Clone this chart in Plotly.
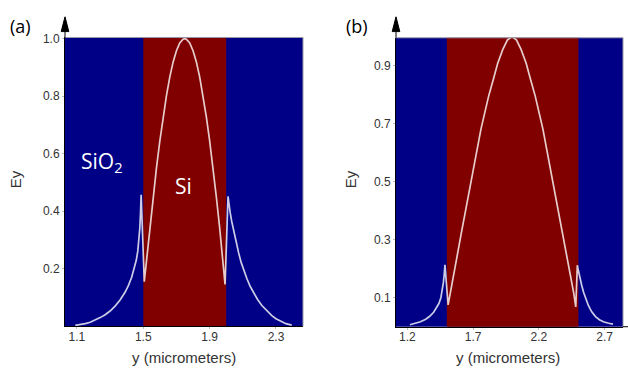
import plotly.graph_objects as go

W, H = 628, 371

# ---- panel (a): 0.5 um silicon core in oxide ----
core_a = [1.5, 2.0]
pos_a = [1.09, 1.12, 1.15, 1.18, 1.21, 1.24, 1.27, 1.30, 1.33, 1.36, 1.39, 1.41, 1.43, 1.445,
         1.458, 1.467, 1.474, 1.479, 1.483, 1.487,
         1.506, 1.52, 1.54, 1.56, 1.58, 1.60, 1.62, 1.64, 1.66, 1.68, 1.70, 1.72, 1.74, 1.75,
         1.76, 1.78, 1.80, 1.82, 1.84, 1.86, 1.88, 1.90, 1.92, 1.94, 1.96, 1.98, 1.993,
         2.011, 2.016, 2.024, 2.033, 2.045, 2.06, 2.075, 2.09, 2.105, 2.125, 2.145, 2.165, 2.19,
         2.215, 2.245, 2.275, 2.30, 2.33, 2.36, 2.395]
ey_a = [0.003, 0.005, 0.009, 0.014, 0.021, 0.030, 0.040, 0.053, 0.070, 0.091, 0.118, 0.141, 0.170, 0.198,
        0.230, 0.262, 0.300, 0.340, 0.390, 0.457,
        0.155, 0.234, 0.345, 0.452, 0.553, 0.645, 0.729, 0.803, 0.867, 0.919, 0.958, 0.985, 0.998, 1.000,
        0.998, 0.985, 0.958, 0.919, 0.867, 0.803, 0.729, 0.645, 0.553, 0.452, 0.345, 0.234, 0.145,
        0.452, 0.425, 0.395, 0.365, 0.330, 0.290, 0.255, 0.222, 0.195, 0.165, 0.138, 0.115, 0.092,
        0.072, 0.053, 0.037, 0.026, 0.016, 0.009, 0.004]
xticks_a = [1.1, 1.5, 1.9, 2.3]
yticks_a = [0.2, 0.4, 0.6, 0.8, 1.0]

# ---- panel (b): 1.0 um silicon core in oxide ----
core_b = [1.5, 2.5]
pos_b = [1.22, 1.26, 1.30, 1.34, 1.37, 1.40, 1.42, 1.44, 1.455, 1.466, 1.474, 1.48, 1.486,
         1.51, 1.525, 1.545, 1.575, 1.605, 1.635, 1.666, 1.713, 1.76, 1.818, 1.855, 1.887, 1.925, 1.96,
         1.995,
         2.03, 2.065, 2.103, 2.135, 2.172, 2.23, 2.277, 2.324, 2.355, 2.385, 2.415, 2.445, 2.465, 2.48,
         2.492, 2.497, 2.505, 2.515, 2.525, 2.54, 2.555, 2.575, 2.60, 2.63, 2.66, 2.69, 2.73, 2.763]
ey_b = [0.007, 0.011, 0.017, 0.026, 0.036, 0.050, 0.063, 0.080, 0.100, 0.125, 0.152, 0.178, 0.213,
        0.075, 0.115, 0.165, 0.235, 0.310, 0.385, 0.456, 0.569, 0.682, 0.795, 0.855, 0.908, 0.955, 0.988,
        1.000,
        0.988, 0.955, 0.908, 0.855, 0.795, 0.682, 0.569, 0.456, 0.385, 0.310, 0.235, 0.165, 0.115, 0.068,
        0.212, 0.200, 0.182, 0.162, 0.143, 0.118, 0.097, 0.074, 0.052, 0.035, 0.024, 0.017, 0.012, 0.009]
xticks_b = [1.2, 1.7, 2.2, 2.7]
yticks_b = [0.1, 0.3, 0.5, 0.7, 0.9]

OXIDE = "rgb(0,0,135)"
SILICON = "rgb(128,0,0)"
FIELD = "rgba(255,255,255,0.8)"
TICK_FONT = dict(family="Liberation Sans, Arial", size=12, color="#333")
LABEL_FONT = dict(family="Liberation Sans, Arial", size=15, color="#333")


def px(x, y):
    """Pixel position -> paper coordinates."""
    return x / W, 1 - y / H


fig = go.Figure()
fig.add_trace(go.Scatter(x=pos_a, y=ey_a, mode="lines", xaxis="x", yaxis="y",
                         line=dict(color=FIELD, width=1.7), hoverinfo="x+y", showlegend=False))
fig.add_trace(go.Scatter(x=pos_b, y=ey_b, mode="lines", xaxis="x2", yaxis="y2",
                         line=dict(color=FIELD, width=1.7), hoverinfo="x+y", showlegend=False))

axis_common = dict(showgrid=False, zeroline=False, showline=True, linecolor="black", linewidth=1,
                   ticks="outside", ticklen=2, tickcolor="#bbb", tickfont=TICK_FONT, fixedrange=True)

fig.update_layout(
    width=W, height=H,
    margin=dict(l=0, r=0, t=0, b=0),
    paper_bgcolor="white",
    plot_bgcolor=OXIDE,
    xaxis=dict(domain=[65 / W, 303 / W], range=[1.028, 2.463], anchor="y", ticklabelstandoff=-3,
               tickvals=xticks_a, ticktext=[f"{v:.1f}" for v in xticks_a], **axis_common),
    yaxis=dict(domain=[1 - 325.5 / H, 1 - 32 / H], range=[0, 1.004], anchor="x",
               tickvals=yticks_a, ticktext=[f"{v:.1f}" for v in yticks_a], **axis_common),
    xaxis2=dict(domain=[396 / W, 623 / W], range=[1.114, 2.839], anchor="y2", ticklabelstandoff=-3,
                tickvals=xticks_b, ticktext=[f"{v:.1f}" for v in xticks_b], **axis_common),
    yaxis2=dict(domain=[1 - 326 / H, 1 - 32.3 / H], range=[0, 0.996], anchor="x2",
                tickvals=yticks_b, ticktext=[f"{v:.1f}" for v in yticks_b], **axis_common),
)

shapes = []
# silicon core bands
for xr, yr, core in (("x", "y domain", core_a), ("x2", "y2 domain", core_b)):
    shapes.append(dict(type="rect", xref=xr, yref=yr, x0=core[0], x1=core[1], y0=0, y1=1,
                       fillcolor=SILICON, line=dict(width=0), layer="below"))
# thin frame on top / right
for xr, yr in (("x domain", "y domain"), ("x2 domain", "y2 domain")):
    shapes.append(dict(type="path", xref=xr, yref=yr, path="M 0,1 L 1,1 L 1,0",
                       line=dict(color="#9a9aa8", width=1), layer="above"))

# y-axis arrows above each panel
for ax_x, top_y in ((65, 32), (396, 32.3)):
    tx, ty = px(ax_x, 11)
    lx, by = px(ax_x - 3.8, 26)
    rx, _ = px(ax_x + 3.8, 26)
    shapes.append(dict(type="path", xref="paper", yref="paper",
                       path=f"M {tx},{ty} L {lx},{by} L {rx},{by} Z",
                       fillcolor="black", line=dict(color="black", width=1)))
    sx, sy0 = px(ax_x, 26)
    _, sy1 = px(ax_x, top_y)
    shapes.append(dict(type="line", xref="paper", yref="paper", x0=sx, x1=sx, y0=sy0, y1=sy1,
                       line=dict(color="black", width=1)))

# x-axis line of (b) runs on past the frame
x0p, yb = px(623, 326)
shapes.append(dict(type="line", xref="paper", yref="paper", x0=x0p, x1=1, y0=yb, y1=yb,
                   line=dict(color="black", width=1)))
fig.update_layout(shapes=shapes)


def label(text, cx, cy, font, angle=0):
    x, y = px(cx, cy)
    return dict(text=text, x=x, y=y, xref="paper", yref="paper", xanchor="center",
                yanchor="middle", showarrow=False, textangle=angle, font=font)


ann = []
for text, cx in (("(a)", 20), ("(b)", 357)):
    ann.append(label(text, cx, 20, dict(family="Open Sans", size=18, color="black")))
for cx in (15, 350):
    ann.append(label("Ey", cx, 176, LABEL_FONT, -90))
for cx in (184, 508):
    ann.append(label("y (micrometers)", cx, 357, LABEL_FONT))
ann.append(dict(text="SiO<sub>2</sub>", x=1.115, y=0.57, xref="x", yref="y", xanchor="left",
                yanchor="middle", showarrow=False,
                font=dict(family="Open Sans", size=21, color="white")))
ann.append(dict(text="Si", x=1.745, y=0.487, xref="x", yref="y", xanchor="center",
                yanchor="middle", showarrow=False,
                font=dict(family="Open Sans", size=21, color="white")))
fig.update_layout(annotations=ann)

fig.write_html("out.html", config={"displayModeBar": False})
